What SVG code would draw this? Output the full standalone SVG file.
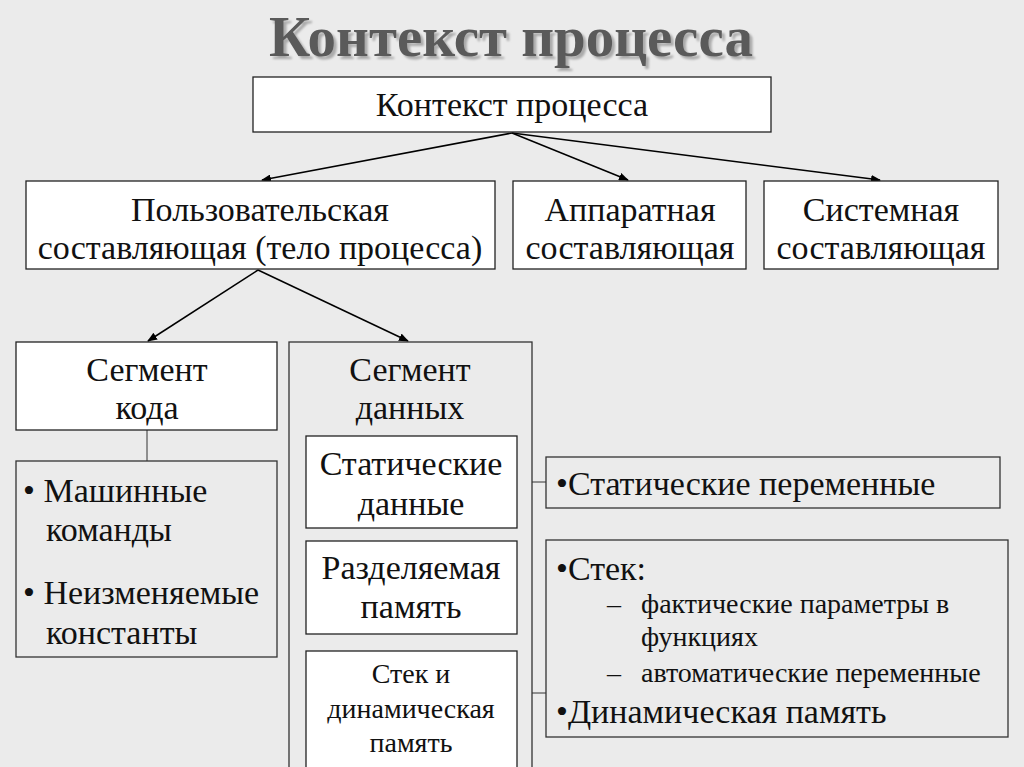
<svg xmlns="http://www.w3.org/2000/svg" width="1024" height="767" viewBox="0 0 1024 767">
<defs>
<marker id="ah" markerWidth="10" markerHeight="8" refX="9" refY="4" orient="auto" markerUnits="userSpaceOnUse"><path d="M0,0 L10,4 L0,8 z" fill="#000"/></marker>
<filter id="sh" x="-5%" y="-20%" width="110%" height="140%"><feDropShadow dx="3" dy="3" stdDeviation="1" flood-color="#aaa"/></filter>
</defs>
<style>
text{font-family:"Liberation Serif",serif;fill:#111;font-size:34px}
.w{fill:#fff;stroke:#222;stroke-width:1.3}
.g{fill:#ebebeb;stroke:#333;stroke-width:1.3}
.c{text-anchor:middle}
.s{font-size:28px}
.ln{stroke:#000;stroke-width:1.5;fill:none}
</style>
<rect width="1024" height="767" fill="#ebebeb"/>
<text x="511" y="56" class="c" filter="url(#sh)" style="font-size:57px;font-weight:bold;fill:#5a5a5a">Контекст процесса</text>
<g id="connectors">
<line class="ln" x1="512" y1="133" x2="262" y2="180" marker-end="url(#ah)"/>
<line class="ln" x1="512" y1="133" x2="628" y2="180" marker-end="url(#ah)"/>
<line class="ln" x1="512" y1="133" x2="880" y2="180" marker-end="url(#ah)"/>
<line class="ln" x1="258" y1="270" x2="148" y2="341" marker-end="url(#ah)"/>
<line class="ln" x1="258" y1="270" x2="408" y2="341" marker-end="url(#ah)"/>
<line class="ln" x1="147" y1="430" x2="147" y2="461" style="stroke:#333;stroke-width:1"/>
<line class="ln" x1="517" y1="482" x2="546" y2="482" style="stroke:#333;stroke-width:1"/>
<line class="ln" x1="517" y1="693" x2="546" y2="693" style="stroke:#333;stroke-width:1"/>
</g>
<g id="root"><rect class="w" x="253" y="77" width="518" height="55"/><text x="512" y="116" class="c">Контекст процесса</text></g>
<g id="user"><rect class="w" x="26" y="181" width="469" height="88"/><text x="260" y="221" class="c">Пользовательская</text><text x="260" y="259" class="c">составляющая (тело процесса)</text></g>
<g id="hw"><rect class="w" x="513" y="181" width="233" height="88"/><text x="630" y="221" class="c">Аппаратная</text><text x="630" y="259" class="c">составляющая</text></g>
<g id="sys"><rect class="w" x="764" y="181" width="234" height="88"/><text x="881" y="221" class="c">Системная</text><text x="881" y="259" class="c">составляющая</text></g>
<g id="code"><rect class="w" x="16" y="342" width="261" height="88"/><text x="147" y="381" class="c">Сегмент</text><text x="147" y="419" class="c">кода</text></g>
<g id="data"><rect class="g" x="289" y="342" width="243" height="430"/><text x="410" y="381" class="c">Сегмент</text><text x="410" y="419" class="c">данных</text></g>
<g id="codelist"><rect class="g" x="16" y="461" width="261" height="196"/>
<text x="23" y="502">• Машинные</text><text x="46" y="541">команды</text>
<text x="23" y="604">• Неизменяемые</text><text x="46" y="644">константы</text></g>
<g id="static"><rect class="w" x="306" y="436" width="211" height="92"/><text x="411" y="475" class="c">Статические</text><text x="411" y="515" class="c">данные</text></g>
<g id="shared"><rect class="w" x="306" y="541" width="211" height="93"/><text x="411" y="579" class="c">Разделяемая</text><text x="411" y="618" class="c">память</text></g>
<g id="stack"><rect class="w" x="306" y="651" width="211" height="120"/><text x="411" y="683" class="c s">Стек и</text><text x="411" y="718" class="c s">динамическая</text><text x="411" y="752" class="c s">память</text></g>
<g id="staticvars"><rect class="g" x="546" y="457" width="454" height="51"/><text x="556" y="495">•Статические переменные</text></g>
<g id="stackinfo"><rect class="g" x="546" y="540" width="462" height="197"/>
<text x="556" y="580">•Стек:</text>
<text x="607" y="613" class="s">–</text><text x="641" y="613" class="s">фактические параметры в</text>
<text x="641" y="646" class="s">функциях</text>
<text x="607" y="682" class="s">–</text><text x="641" y="682" class="s">автоматические переменные</text>
<text x="556" y="723">•Динамическая память</text></g>
</svg>
